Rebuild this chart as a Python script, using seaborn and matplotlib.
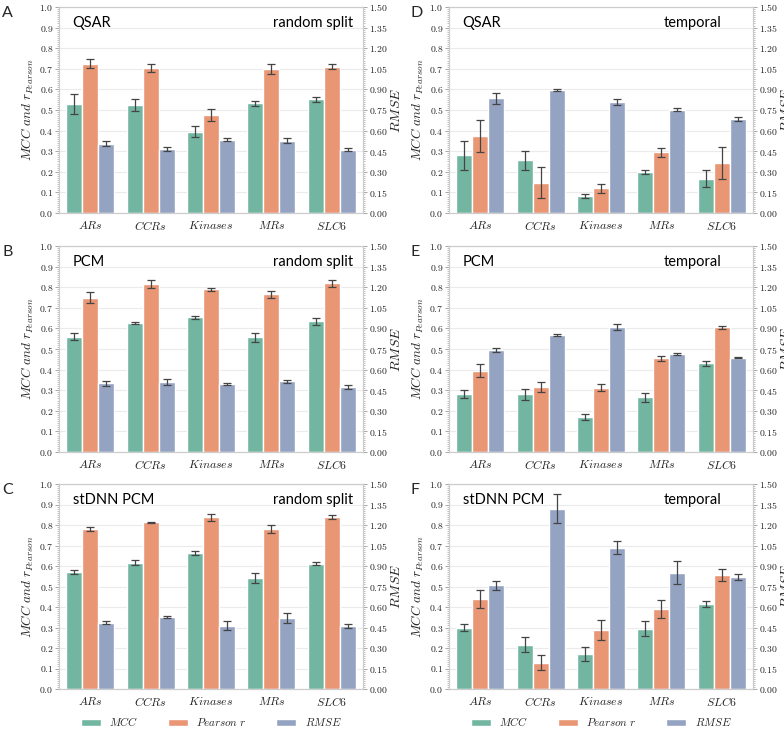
import numpy as np
import pandas as pd
import matplotlib
matplotlib.use("Agg")
import matplotlib.pyplot as plt
from matplotlib.ticker import MultipleLocator, AutoMinorLocator, FuncFormatter
from matplotlib.patches import Patch
import seaborn as sns

targets = ["ARs", "CCRs", "Kinases", "MRs", "SLC6"]
metrics = ["MCC", "Pearson r", "RMSE"]

# values per panel: MCC / Pearson on left axis, RMSE on right axis (0-1.5)
qsar_rand_mcc = [0.530, 0.525, 0.395, 0.533, 0.553]
qsar_rand_mcc_err = [0.047, 0.030, 0.025, 0.012, 0.012]
qsar_rand_r = [0.725, 0.703, 0.475, 0.700, 0.710]
qsar_rand_r_err = [0.022, 0.020, 0.028, 0.025, 0.012]
qsar_rand_rmse = [0.505, 0.465, 0.535, 0.525, 0.460]
qsar_rand_rmse_err = [0.018, 0.012, 0.009, 0.018, 0.012]

pcm_rand_mcc = [0.560, 0.627, 0.653, 0.557, 0.635]
pcm_rand_mcc_err = [0.018, 0.006, 0.008, 0.022, 0.017]
pcm_rand_r = [0.750, 0.815, 0.790, 0.765, 0.818]
pcm_rand_r_err = [0.025, 0.020, 0.008, 0.017, 0.015]
pcm_rand_rmse = [0.500, 0.510, 0.497, 0.515, 0.473]
pcm_rand_rmse_err = [0.020, 0.024, 0.009, 0.012, 0.015]

dnn_rand_mcc = [0.570, 0.617, 0.665, 0.540, 0.612]
dnn_rand_mcc_err = [0.011, 0.010, 0.010, 0.025, 0.008]
dnn_rand_r = [0.780, 0.813, 0.837, 0.780, 0.837]
dnn_rand_r_err = [0.010, 0.002, 0.017, 0.020, 0.010]
dnn_rand_rmse = [0.485, 0.525, 0.462, 0.518, 0.458]
dnn_rand_rmse_err = [0.012, 0.006, 0.033, 0.037, 0.015]

qsar_temp_mcc = [0.280, 0.255, 0.083, 0.200, 0.167]
qsar_temp_mcc_err = [0.070, 0.045, 0.010, 0.010, 0.043]
qsar_temp_r = [0.375, 0.148, 0.120, 0.295, 0.243]
qsar_temp_r_err = [0.078, 0.073, 0.022, 0.022, 0.078]
qsar_temp_rmse = [0.835, 0.893, 0.810, 0.753, 0.683]
qsar_temp_rmse_err = [0.042, 0.008, 0.022, 0.009, 0.015]

pcm_temp_mcc = [0.280, 0.280, 0.170, 0.265, 0.430]
pcm_temp_mcc_err = [0.020, 0.027, 0.015, 0.020, 0.013]
pcm_temp_r = [0.395, 0.315, 0.313, 0.455, 0.605]
pcm_temp_r_err = [0.033, 0.023, 0.015, 0.013, 0.008]
pcm_temp_rmse = [0.742, 0.852, 0.910, 0.712, 0.686]
pcm_temp_rmse_err = [0.015, 0.009, 0.025, 0.008, 0.005]

dnn_temp_mcc = [0.298, 0.217, 0.170, 0.295, 0.415]
dnn_temp_mcc_err = [0.017, 0.037, 0.035, 0.037, 0.013]
dnn_temp_r = [0.440, 0.128, 0.288, 0.390, 0.555]
dnn_temp_r_err = [0.045, 0.037, 0.047, 0.045, 0.030]
dnn_temp_rmse = [0.760, 1.320, 1.035, 0.850, 0.818]
dnn_temp_rmse_err = [0.033, 0.108, 0.045, 0.085, 0.022]

panels = [
    ("A", "QSAR", "random split", qsar_rand_mcc, qsar_rand_mcc_err, qsar_rand_r, qsar_rand_r_err, qsar_rand_rmse, qsar_rand_rmse_err),
    ("B", "PCM", "random split", pcm_rand_mcc, pcm_rand_mcc_err, pcm_rand_r, pcm_rand_r_err, pcm_rand_rmse, pcm_rand_rmse_err),
    ("C", "stDNN PCM", "random split", dnn_rand_mcc, dnn_rand_mcc_err, dnn_rand_r, dnn_rand_r_err, dnn_rand_rmse, dnn_rand_rmse_err),
    ("D", "QSAR", "temporal", qsar_temp_mcc, qsar_temp_mcc_err, qsar_temp_r, qsar_temp_r_err, qsar_temp_rmse, qsar_temp_rmse_err),
    ("E", "PCM", "temporal", pcm_temp_mcc, pcm_temp_mcc_err, pcm_temp_r, pcm_temp_r_err, pcm_temp_rmse, pcm_temp_rmse_err),
    ("F", "stDNN PCM", "temporal", dnn_temp_mcc, dnn_temp_mcc_err, dnn_temp_r, dnn_temp_r_err, dnn_temp_rmse, dnn_temp_rmse_err),
]

sns.set_style("whitegrid")
plt.rcParams["font.family"] = ["Lato", "DejaVu Sans"]
plt.rcParams["mathtext.fontset"] = "cm"

palette = dict(zip(metrics, sns.color_palette("Set2", 3)))
spine_col = "#cccccc"
text_col = "#222222"

fig = plt.figure(figsize=(7.84, 7.29), dpi=100)
W, H = 784, 729
col_x = [59, 449]
letter_x = [2, 410]
row_y = [(7, 213), (246, 452), (484, 689)]
ax_w = 304

mfmt = FuncFormatter(lambda v, p: f"${v:.1f}$")
rfmt = FuncFormatter(lambda v, p: f"${v:.2f}$")


def draw_bars(a, df, keep):
    # all three hue levels stay in the data so the dodge is the same on both axes
    d = df.copy()
    d.loc[~d.metric.isin(keep), "value"] = np.nan
    sns.barplot(data=d, x="target", y="value", hue="metric", hue_order=metrics,
                palette=palette, errorbar=None, width=0.8, edgecolor="white",
                linewidth=1, legend=False, ax=a)
    for p in a.patches:
        h = p.get_height()
        if not np.isfinite(h) or h == 0:
            continue
        xc = p.get_x() + p.get_width() / 2
        k = int(round(xc))
        off = xc - k
        m = "MCC" if off < -0.1 else ("RMSE" if off > 0.1 else "Pearson r")
        if m not in keep:
            continue
        e = df[(df.target == targets[k]) & (df.metric == m)].err.values[0]
        a.errorbar(xc, h, yerr=e, color="#444444", capsize=3,
                   elinewidth=0.9, capthick=0.9, zorder=5)


for i, (letter, model, split, mcc, mcc_e, r, r_e, rmse, rmse_e) in enumerate(panels):
    c, row = divmod(i, 3)
    top, bot = row_y[row]
    ax = fig.add_axes([col_x[c] / W, 1 - bot / H, ax_w / W, (bot - top) / H])

    df = pd.DataFrame({
        "target": targets * 3,
        "metric": np.repeat(metrics, len(targets)),
        "value": list(mcc) + list(r) + list(rmse),
        "err": list(mcc_e) + list(r_e) + list(rmse_e),
    })

    draw_bars(ax, df, ["MCC", "Pearson r"])
    ax2 = ax.twinx()
    draw_bars(ax2, df, ["RMSE"])

    ax.set_ylim(0, 1.0)
    ax2.set_ylim(0, 1.5)
    ax.set_xlim(-0.52, 4.52)
    ax.yaxis.set_major_locator(MultipleLocator(0.1))
    ax.yaxis.set_minor_locator(AutoMinorLocator(10))
    ax.yaxis.set_major_formatter(mfmt)
    ax2.yaxis.set_major_locator(MultipleLocator(0.15))
    ax2.yaxis.set_minor_locator(AutoMinorLocator(10))
    ax2.yaxis.set_major_formatter(rfmt)
    ax2.grid(False)
    ax.grid(axis="y", color="#ebebeb", linewidth=0.8)
    ax.grid(axis="x", visible=False)
    ax.set_axisbelow(True)

    ax.set_xticks(range(len(targets)))
    ax.set_xticklabels([f"${t}$" for t in targets], fontsize=8.5, color=text_col)
    ax.tick_params(axis="x", length=0, pad=4)
    for a in (ax, ax2):
        a.tick_params(axis="y", which="major", length=3, width=0.6, color="#999999",
                      labelsize=7, labelcolor=text_col, pad=1)
        a.tick_params(axis="y", which="minor", length=1.5, width=0.5, color="#aaaaaa")
        for s in a.spines.values():
            s.set_color(spine_col)
            s.set_linewidth(0.8)
    ax.tick_params(axis="y", which="both", left=True)
    ax2.tick_params(axis="y", which="both", right=True)

    ax.set_xlabel("")
    ax.set_ylabel(r"$MCC\ and\ r_{Pearson}$", fontsize=9.5, color=text_col, labelpad=2)
    ax2.set_ylabel(r"$RMSE$", fontsize=10, color=text_col, labelpad=1)

    ax.text(0.045, 0.92, model, transform=ax.transAxes, fontsize=10.5,
            ha="left", va="center", color="black")
    ax.text(0.705, 0.92, split, transform=ax.transAxes, fontsize=10.5,
            ha="left", va="center", color="black")
    fig.text(letter_x[c] / W, 1 - (top + 6) / H, letter, fontsize=11.5,
             ha="left", va="center")

handles = [Patch(facecolor=sns.desaturate(palette[m], 0.75), edgecolor="white")
           for m in metrics]
labels = [r"$MCC$", r"$Pearson\ r$", r"$RMSE$"]
for c in range(2):
    fig.legend(handles, labels, loc="center", ncol=3, frameon=False,
               bbox_to_anchor=((col_x[c] + ax_w / 2) / W, 1 - 722 / H),
               fontsize=8, handlelength=1.8, handleheight=0.6, columnspacing=2.6,
               handletextpad=0.8, borderpad=0)

fig.savefig("out.png", dpi=100)
